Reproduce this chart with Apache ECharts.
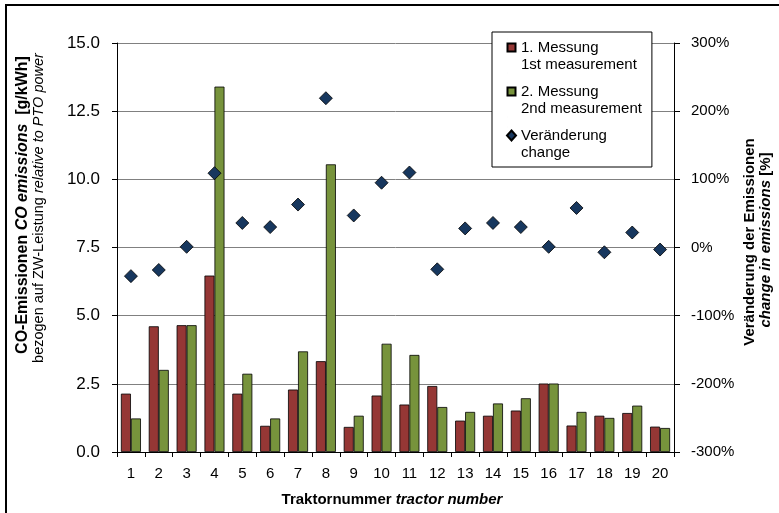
<!DOCTYPE html>
<html>
<head>
<meta charset="utf-8">
<script src="https://cdn.jsdelivr.net/npm/echarts@6/dist/echarts.min.js"></script>
<style>
html,body{margin:0;padding:0;background:#fff;}
#chart{width:779px;height:513px;}
</style>
</head>
<body>
<div id="chart"></div>
<script>
const categories = ['1','2','3','4','5','6','7','8','9','10','11','12','13','14','15','16','17','18','19','20'];
const measurement1 = [2.14, 4.61, 4.65, 6.47, 2.14, 0.96, 2.29, 3.33, 0.92, 2.07, 1.74, 2.42, 1.15, 1.33, 1.52, 2.51, 0.97, 1.33, 1.43, 0.93];
const measurement2 = [1.23, 3.01, 4.65, 13.40, 2.87, 1.23, 3.69, 10.55, 1.33, 3.97, 3.56, 1.65, 1.47, 1.78, 1.97, 2.51, 1.47, 1.25, 1.70, 0.88];
const changePct = [-42, -33, 1, 109, 36, 30, 63, 219, 47, 95, 110, -32, 28, 36, 30, 1, 58, -7, 22, -3];
const names = ['1. Messung\n1st measurement', '2. Messung\n2nd measurement', 'Veränderung\nchange'];

const FONT = '"Liberation Sans", Arial, sans-serif';
const chart = echarts.init(document.getElementById('chart'), null, {renderer: 'canvas'});

const sqIcon = 'path://M0,0 L0.01,0 M0,4.5 L8,4.5 L8,12.5 L0,12.5 Z M0,34 L0.01,34';
const diaIcon = 'path://M0,0 L0.01,0 M4,3.5 L8.5,8.5 L4,13.5 L-0.5,8.5 Z M0,34 L0.01,34';

const option = {
  animation: false,
  backgroundColor: '#fff',
  textStyle: {fontFamily: FONT},
  grid: {left: 117, right: 105, top: 43, height: 409, containLabel: false},
  legend: {
    orient: 'vertical',
    left: 492, top: 32,
    padding: [6, 10, 5, 14],
    itemGap: 8,
    itemWidth: 9, itemHeight: 34,
    backgroundColor: '#fff',
    borderColor: '#000', borderWidth: 1,
    textStyle: {fontFamily: FONT, fontSize: 15, color: '#000', lineHeight: 17},
    data: [
      {name: names[0], icon: sqIcon},
      {name: names[1], icon: sqIcon},
      {name: names[2], icon: diaIcon}
    ]
  },
  xAxis: {
    type: 'category',
    data: categories,
    axisLine: {lineStyle: {color: '#000', width: 1}},
    axisTick: {show: true, length: 5, lineStyle: {color: '#000'}},
    axisLabel: {color: '#000', fontSize: 15, fontFamily: FONT, margin: 14}
  },
  yAxis: [
    {
      type: 'value', min: 0, max: 15, interval: 2.5, position: 'left',
      axisLine: {show: true, lineStyle: {color: '#000'}},
      axisTick: {show: true, length: 5, lineStyle: {color: '#000'}},
      axisLabel: {color: '#000', fontSize: 17, fontFamily: FONT, margin: 17,
        formatter: v => v.toFixed(1)},
      splitLine: {show: true, lineStyle: {color: '#808080', width: 1}}
    },
    {
      type: 'value', min: -300, max: 300, interval: 100, position: 'right',
      axisLine: {show: true, lineStyle: {color: '#000'}},
      axisTick: {show: true, length: 6, lineStyle: {color: '#000'}},
      axisLabel: {color: '#000', fontSize: 15, fontFamily: FONT, margin: 17,
        formatter: '{value}%'},
      splitLine: {show: false}
    }
  ],
  series: [
    {
      name: names[0], type: 'bar', data: measurement1,
      barWidth: 10, barGap: '0%',
      itemStyle: {color: '#953735', borderColor: '#000', borderWidth: 0.8}
    },
    {
      name: names[1], type: 'bar', data: measurement2,
      barWidth: 10, barGap: '0%',
      itemStyle: {color: '#77933C', borderColor: '#000', borderWidth: 0.8}
    },
    {
      name: names[2], type: 'scatter', yAxisIndex: 1, data: changePct,
      symbol: 'diamond', symbolSize: 13, z: 5,
      itemStyle: {color: '#17375E', borderColor: '#000', borderWidth: 0.8, opacity: 1}
    }
  ],
  graphic: [
    {type: 'polyline', shape: {points: [[6, 600], [6, 5], [1200, 5]]}, style: {fill: 'none', stroke: '#000', lineWidth: 2}, silent: true},
    {type: 'text', x: 23, y: 205, rotation: Math.PI / 2,
      style: {text: '{b|CO-Emissionen }{bi|CO emissions}{b|  [g/kWh]}', align: 'center', verticalAlign: 'middle',
        rich: {b: {fontFamily: FONT, fontSize: 16, fontWeight: 'bold', fill: '#000'},
               bi: {fontFamily: FONT, fontSize: 16, fontWeight: 'bold', fontStyle: 'italic', fill: '#000'}}}},
    {type: 'text', x: 39, y: 208, rotation: Math.PI / 2,
      style: {text: '{n|bezogen auf ZW-Leistung }{i|relative to PTO power}', align: 'center', verticalAlign: 'middle',
        rich: {n: {fontFamily: FONT, fontSize: 14.5, fill: '#000'},
               i: {fontFamily: FONT, fontSize: 14.5, fontStyle: 'italic', fill: '#000'}}}},
    {type: 'text', x: 750, y: 242, rotation: Math.PI / 2,
      style: {text: 'Veränderung der Emissionen', align: 'center', verticalAlign: 'middle',
        font: 'bold 15px ' + FONT, fill: '#000'}},
    {type: 'text', x: 766, y: 240, rotation: Math.PI / 2,
      style: {text: '{bi|change in emissions}{b| [%]}', align: 'center', verticalAlign: 'middle',
        rich: {b: {fontFamily: FONT, fontSize: 15, fontWeight: 'bold', fill: '#000'},
               bi: {fontFamily: FONT, fontSize: 15, fontWeight: 'bold', fontStyle: 'italic', fill: '#000'}}}},
    {type: 'text', x: 392, y: 500,
      style: {text: '{b|Traktornummer }{bi|tractor number}', align: 'center', verticalAlign: 'middle',
        rich: {b: {fontFamily: FONT, fontSize: 15, fontWeight: 'bold', fill: '#000'},
               bi: {fontFamily: FONT, fontSize: 15, fontWeight: 'bold', fontStyle: 'italic', fill: '#000'}}}}
  ]
};
chart.setOption(option);
</script>
</body>
</html>
